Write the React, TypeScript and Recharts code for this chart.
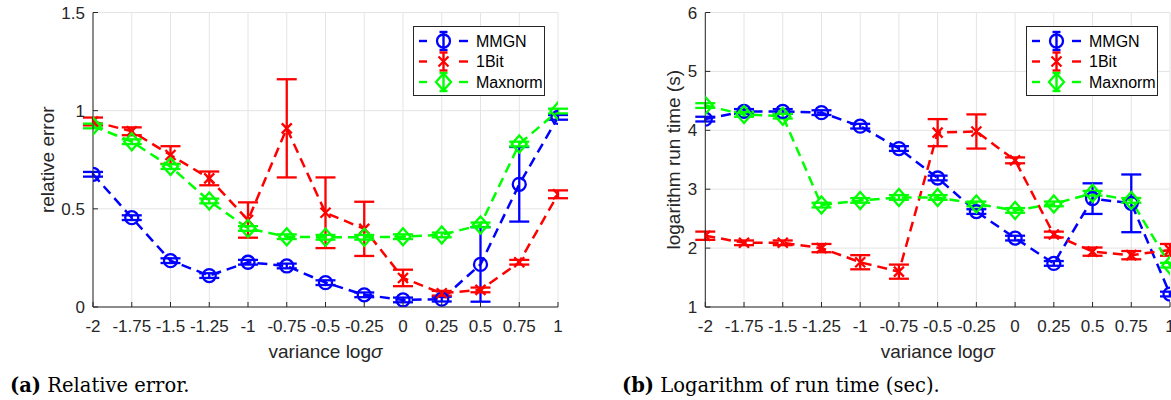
import React from 'react';
import { LineChart, Line, XAxis, YAxis, CartesianGrid, ErrorBar, Legend } from 'recharts';

const variance = [-2, -1.75, -1.5, -1.25, -1, -0.75, -0.5, -0.25, 0, 0.25, 0.5, 0.75, 1];

// (a) relative error, mean and std per method
const errMMGN = [0.676, 0.455, 0.236, 0.16, 0.228, 0.209, 0.124, 0.062, 0.036, 0.04, 0.217, 0.625, 0.966];
const errMMGNSd = [0.012, 0.012, 0.012, 0.012, 0.012, 0.012, 0.012, 0.012, 0.012, 0.012, 0.19, 0.19, 0.012];
const err1Bit = [0.945, 0.895, 0.774, 0.655, 0.443, 0.91, 0.48, 0.398, 0.148, 0.07, 0.087, 0.228, 0.574];
const err1BitSd = [0.02, 0.02, 0.045, 0.035, 0.09, 0.25, 0.18, 0.138, 0.042, 0.012, 0.012, 0.012, 0.02];
const errMaxnorm = [0.922, 0.842, 0.715, 0.54, 0.4, 0.358, 0.355, 0.355, 0.358, 0.367, 0.418, 0.83, 0.998];
const errMaxnormSd = [0.012, 0.012, 0.012, 0.012, 0.012, 0.012, 0.012, 0.012, 0.012, 0.012, 0.012, 0.012, 0.012];

// (b) logarithm of run time
const timeMMGN = [4.19, 4.32, 4.32, 4.3, 4.07, 3.69, 3.19, 2.62, 2.17, 1.74, 2.84, 2.76, 1.22];
const timeMMGNSd = [0.04, 0.04, 0.04, 0.04, 0.04, 0.04, 0.04, 0.04, 0.04, 0.04, 0.26, 0.49, 0.04];
const time1Bit = [2.21, 2.09, 2.09, 2.0, 1.76, 1.6, 3.96, 3.98, 3.49, 2.23, 1.94, 1.88, 1.97];
const time1BitSd = [0.07, 0.04, 0.04, 0.07, 0.12, 0.12, 0.23, 0.29, 0.05, 0.05, 0.07, 0.07, 0.1];
const timeMaxnorm = [4.42, 4.27, 4.24, 2.73, 2.81, 2.86, 2.86, 2.75, 2.64, 2.75, 2.93, 2.81, 1.71];
const timeMaxnormSd = [0.04, 0.04, 0.04, 0.04, 0.04, 0.04, 0.04, 0.04, 0.04, 0.04, 0.04, 0.04, 0.04];

const yTicksErr = [0, 0.5, 1, 1.5];
const yTicksTime = [1, 2, 3, 4, 5, 6];
const methods = ['MMGN', '1Bit', 'Maxnorm'];

const BLUE = '#0000ff';
const RED = '#ff0000';
const GREEN = '#00ff00';
const AXIS = '#262626';
const GRID = '#e4e4e4';
const TICK_LEN = 5;
const X_GAP = 14;
const Y_GAP = 8;
const TICK_FONT = 17;
const MARK_W = 2.3;

const errData = variance.map((x, i) => ({
  x,
  mmgn: errMMGN[i], mmgnSd: errMMGNSd[i],
  bit: err1Bit[i], bitSd: err1BitSd[i],
  maxn: errMaxnorm[i], maxnSd: errMaxnormSd[i],
}));

const timeData = variance.map((x, i) => ({
  x,
  mmgn: timeMMGN[i], mmgnSd: timeMMGNSd[i],
  bit: time1Bit[i], bitSd: time1BitSd[i],
  maxn: timeMaxnorm[i], maxnSd: timeMaxnormSd[i],
}));

const circleMark = (cx: number, cy: number, color: string) => (
  <circle cx={cx} cy={cy} r={6.5} fill="none" stroke={color} strokeWidth={MARK_W} strokeDasharray="none" />
);
const crossMark = (cx: number, cy: number, color: string) => (
  <path
    d={`M${cx - 5},${cy - 5}L${cx + 5},${cy + 5}M${cx - 5},${cy + 5}L${cx + 5},${cy - 5}`}
    stroke={color} strokeWidth={MARK_W} fill="none" strokeDasharray="none"
  />
);
const diamondMark = (cx: number, cy: number, color: string) => (
  <path
    d={`M${cx},${cy - 8.5}L${cx + 7.5},${cy}L${cx},${cy + 8.5}L${cx - 7.5},${cy}Z`}
    stroke={color} strokeWidth={MARK_W} fill="none" strokeDasharray="none"
  />
);

const markers = [
  { name: methods[0], color: BLUE, mark: circleMark },
  { name: methods[1], color: RED, mark: crossMark },
  { name: methods[2], color: GREEN, mark: diamondMark },
];

const dotFor = (m: typeof markers[number]) => (p: any) =>
  p.cx == null || p.cy == null ? <g key={p.index} /> : <g key={p.index}>{m.mark(p.cx, p.cy, m.color)}</g>;

const BottomTick = (p: any) => (
  <g>
    <line x1={p.x} x2={p.x} y1={p.y - X_GAP} y2={p.y - X_GAP - TICK_LEN} stroke={AXIS} />
    <text x={p.x} y={p.y} dy="0.66em" textAnchor="middle" fontSize={TICK_FONT} fill={AXIS}>{p.payload.value}</text>
  </g>
);
const TopTick = (p: any) => (
  <line x1={p.x} x2={p.x} y1={p.y} y2={p.y + TICK_LEN} stroke={AXIS} />
);
const LeftTick = (p: any) => (
  <g>
    <line x1={p.x + Y_GAP} x2={p.x + Y_GAP + TICK_LEN} y1={p.y} y2={p.y} stroke={AXIS} />
    <text x={p.x} y={p.y} dy="0.355em" textAnchor="end" fontSize={TICK_FONT} fill={AXIS}>{p.payload.value}</text>
  </g>
);
const RightTick = (p: any) => (
  <line x1={p.x} x2={p.x - TICK_LEN} y1={p.y} y2={p.y} stroke={AXIS} />
);

const yLabel = (text: string, dx: number) => (p: any) => {
  const vb = p.viewBox || { x: 0, y: 12.5, width: 93, height: 294.5 };
  const cx = vb.x + dx;
  const cy = vb.y + vb.height / 2;
  return (
    <text x={cx} y={cy} transform={`rotate(-90 ${cx} ${cy})`} dy="0.35em" textAnchor="middle" fontSize={19} fill={AXIS}>
      {text}
    </text>
  );
};

const xLabel = (p: any) => {
  const vb = p.viewBox;
  return (
    <text x={vb.x + vb.width / 2} y={vb.y + 51} textAnchor="middle" fontSize={19} fill={AXIS}>
      variance log<tspan fontStyle="italic">σ</tspan>
    </text>
  );
};

const LegendBox = () => (
  <div style={{ border: `1px solid ${AXIS}`, background: '#fff', width: 130, height: 68 }}>
    <svg width={130} height={68} style={{ display: 'block' }}>
      {markers.map((m, i) => {
        const y = 14 + i * 20.5;
        return (
          <g key={m.name}>
            <line x1={5} x2={13} y1={y} y2={y} stroke={m.color} strokeWidth={2.4} />
            <line x1={45} x2={54} y1={y} y2={y} stroke={m.color} strokeWidth={2.4} />
            <line x1={29.5} x2={29.5} y1={y - 9} y2={y + 9} stroke={m.color} strokeWidth={2.4} />
            <line x1={25.5} x2={33.5} y1={y - 9} y2={y - 9} stroke={m.color} strokeWidth={2.4} />
            <line x1={25.5} x2={33.5} y1={y + 9} y2={y + 9} stroke={m.color} strokeWidth={2.4} />
            {m.mark(29.5, y, m.color)}
            <text x={62} y={y} dy="0.36em" fontSize={16} fill="#000">{m.name}</text>
          </g>
        );
      })}
    </svg>
  </div>
);

interface PanelProps {
  data: typeof errData;
  width: number;
  marginRight: number;
  yAxisWidth: number;
  domain: [number, number];
  yTicks: number[];
  yTitle: string;
  yTitleX: number;
  legendLeft: number;
}

function Panel({ data, width, marginRight, yAxisWidth, domain, yTicks, yTitle, yTitleX, legendLeft }: PanelProps) {
  const keys = ['mmgn', 'bit', 'maxn'];
  return (
    <LineChart width={width} height={370} data={data} margin={{ top: 12.5, right: marginRight, bottom: 0, left: 0 }}>
      <CartesianGrid stroke={GRID} />
      <XAxis
        dataKey="x" type="number" domain={[-2, 1]} ticks={variance} interval={0} allowDataOverflow
        height={63} tickSize={0} tickMargin={X_GAP} tickLine={false} tick={<BottomTick />}
        axisLine={{ stroke: AXIS }} label={xLabel}
      />
      <XAxis
        xAxisId="top" orientation="top" dataKey="x" type="number" domain={[-2, 1]} ticks={variance} interval={0}
        height={0} tickSize={0} tickMargin={0} tickLine={false} tick={<TopTick />} axisLine={{ stroke: AXIS }}
      />
      <YAxis
        type="number" domain={domain} ticks={yTicks} interval={0} allowDataOverflow width={yAxisWidth}
        tickSize={0} tickMargin={Y_GAP} tickLine={false} tick={<LeftTick />} axisLine={{ stroke: AXIS }}
        label={yLabel(yTitle, yTitleX)}
      />
      <YAxis
        yAxisId="right" orientation="right" type="number" domain={domain} ticks={yTicks} interval={0} width={0}
        tickSize={0} tickMargin={0} tickLine={false} tick={<RightTick />} axisLine={{ stroke: AXIS }}
      />
      {markers.map((m, i) => (
        <Line
          key={m.name} name={m.name} dataKey={keys[i]} type="linear" stroke={m.color} strokeWidth={2.5}
          strokeDasharray="10 6" dot={dotFor(m)} activeDot={false} isAnimationActive={false}
        >
          <ErrorBar dataKey={`${keys[i]}Sd`} width={10} strokeWidth={2.3} stroke={m.color} direction="y" />
        </Line>
      ))}
      <Legend
        layout="vertical" align="center" verticalAlign="middle" content={<LegendBox />}
        wrapperStyle={{ left: legendLeft, top: 26, width: 132, height: 70 }}
      />
    </LineChart>
  );
}

export default function App() {
  return (
    <div
      style={{
        position: 'absolute', left: 0, top: 0, width: 1171, height: 400, overflow: 'hidden',
        background: '#fff', fontFamily: '"Liberation Sans", Arial, sans-serif',
      }}
    >
      <div style={{ position: 'absolute', left: 0, top: 0 }}>
        <Panel
          data={errData} width={580} marginRight={22} yAxisWidth={93} domain={[0, 1.5]} yTicks={yTicksErr}
          yTitle="relative error" yTitleX={47} legendLeft={413}
        />
      </div>
      <div style={{ position: 'absolute', left: 600, top: 0 }}>
        <Panel
          data={timeData} width={571} marginRight={1} yAxisWidth={105.3} domain={[1, 6]} yTicks={yTicksTime}
          yTitle="logarithm run time (s)" yTitleX={73} legendLeft={426}
        />
      </div>
      <div
        style={{
          position: 'absolute', left: 10, top: 376, fontFamily: '"DejaVu Serif", serif', fontSize: 19.5,
          lineHeight: '20px', color: '#000', whiteSpace: 'nowrap',
        }}
      >
        <b>(a)</b> Relative error.
      </div>
      <div
        style={{
          position: 'absolute', left: 622, top: 376, fontFamily: '"DejaVu Serif", serif', fontSize: 19.5,
          lineHeight: '20px', color: '#000', whiteSpace: 'nowrap',
        }}
      >
        <b>(b)</b> Logarithm of run time (sec).
      </div>
    </div>
  );
}
